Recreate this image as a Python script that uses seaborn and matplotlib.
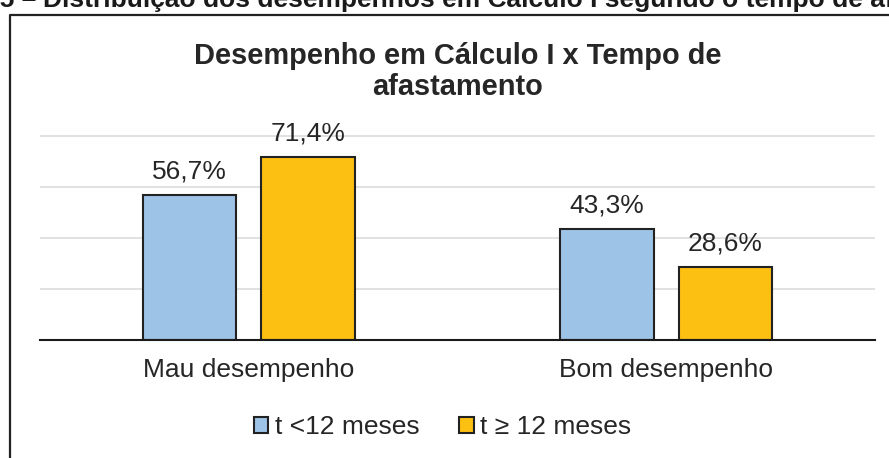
import matplotlib
matplotlib.use('Agg')
import matplotlib.pyplot as plt
import seaborn as sns
import pandas as pd
from matplotlib.patches import Patch
from matplotlib.lines import Line2D

# ---------------- dados ----------------
desempenhos = ['Mau desempenho', 'Bom desempenho']
grupos = ['t <12 meses', 't \u2265 12 meses']
pct_menos_12 = [56.7, 43.3]
pct_mais_12 = [71.4, 28.6]
cores = ['#9DC3E6', '#FCC012']

titulo = 'Desempenho em Cálculo I x Tempo de\nafastamento'
legenda_topo = 'Distribuição dos desempenhos em Cálculo I segundo o tempo de afastamento'

df = pd.DataFrame({
    'desempenho': desempenhos * 2,
    'pct': pct_menos_12 + pct_mais_12,
    'tempo': [grupos[0]] * 2 + [grupos[1]] * 2,
})

sns.set_theme(style='white')
plt.rcParams['font.family'] = ['Liberation Sans', 'DejaVu Sans']
texto = '#262626'

# eixo: 0 -> y=340 px, 80% -> y=135.5 px (um pouco de folga no topo p/ a grade)
ymax = 80.5
px_por_pct = (340 - 135.5) / 80
fig = plt.figure(figsize=(8.89, 4.58), dpi=100)
ax = fig.add_axes([40 / 889, 1 - 340 / 458, 835 / 889, ymax * px_por_pct / 458])

sns.barplot(data=df, x='desempenho', y='pct', hue='tempo', order=desempenhos,
            hue_order=grupos, palette=cores, saturation=1, width=0.568, gap=0.208,
            edgecolor='#222222', linewidth=1.5, legend=False, ax=ax)

for cont in ax.containers:
    rot = [f'{b.get_height():.1f}%'.replace('.', ',') for b in cont]
    ax.bar_label(cont, labels=rot, padding=8.5, fontsize=19, color=texto)

ax.set_xlim(-0.5, 1.5)
ax.set_ylim(0, ymax)
ax.set_yticks([0, 20, 40, 60, 80])
ax.set_yticklabels([])
ax.yaxis.grid(True, color='#D9D9D9', linewidth=1.1)
ax.set_axisbelow(True)
ax.set_xlabel('')
ax.set_ylabel('')
for s in ['left', 'right', 'top']:
    ax.spines[s].set_visible(False)
ax.spines['bottom'].set_color('#1a1a1a')
ax.spines['bottom'].set_linewidth(1.5)
ax.tick_params(axis='x', length=0, pad=13, labelsize=19, labelcolor=texto)
ax.tick_params(axis='y', length=0)

ax.set_title(titulo, fontsize=20.9, fontweight='bold', color=texto, pad=28,
             linespacing=1.15)

handles = [Patch(facecolor=c, edgecolor='#222222', linewidth=1.5) for c in cores]
fig.legend(handles, grupos, loc='center', bbox_to_anchor=(0.5 - 2 / 889, 1 - 427 / 458),
           ncol=2, frameon=False, fontsize=19, handlelength=0.55, handleheight=0.55,
           handletextpad=0.25, columnspacing=1.5, labelcolor=texto)

# moldura do grafico (cortada na imagem original)
y_top = 1 - 15 / 458
x_left = 10 / 889
fig.add_artist(Line2D([x_left, x_left, 1.05], [-0.05, y_top, y_top],
                      transform=fig.transFigure, color='#222222', linewidth=1.6))

# legenda do documento, cortada no topo como no original
fig.text(43 / 889, 1 - 7 / 458, legenda_topo, ha='left', va='baseline',
         fontsize=19, fontweight='bold', color='#1a1a1a')
fig.text(36 / 889, 1 - 7 / 458, 'Gráfico 5 \u2013', ha='right', va='baseline',
         fontsize=19, fontweight='bold', color='#1a1a1a')

fig.savefig('out.png', dpi=100)
